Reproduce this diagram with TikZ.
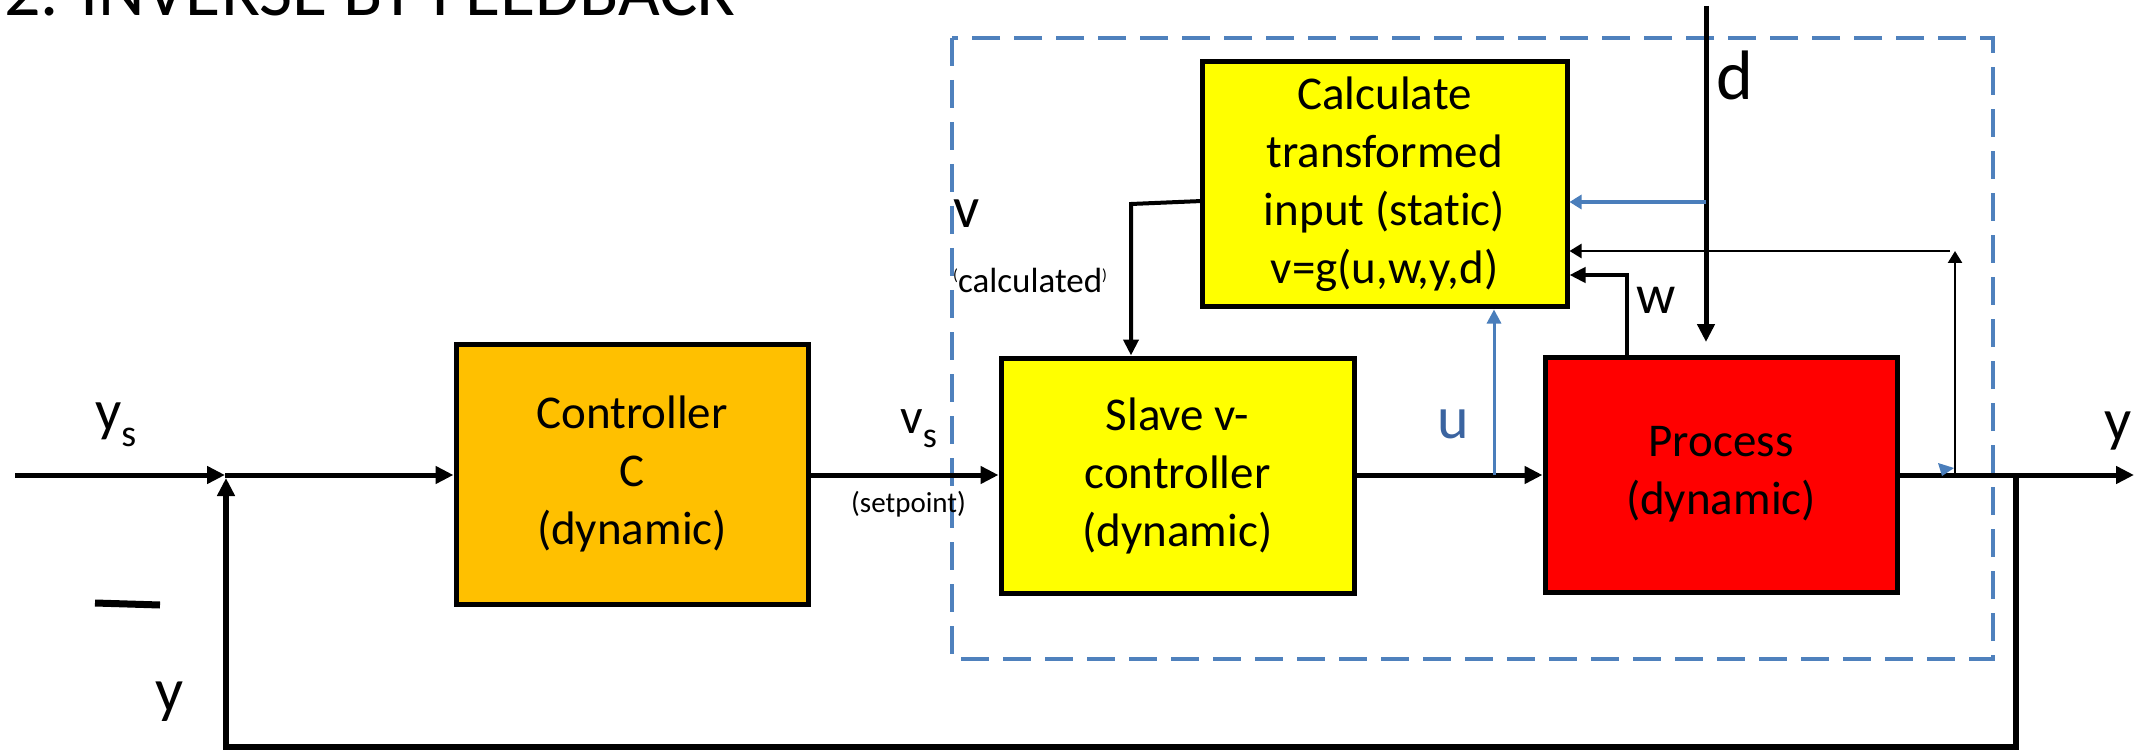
\documentclass[tikz,border=0pt]{standalone}
\usepackage{fontspec}
\setmainfont{Carlito}[Ligatures=NoCommon]
\usetikzlibrary{arrows.meta}
\definecolor{ctrlorange}{HTML}{FFC000}
\definecolor{slaveyellow}{HTML}{FFFF00}
\definecolor{procred}{HTML}{FF0000}
\definecolor{boxblue}{HTML}{4F81BD}
\definecolor{sigblue}{HTML}{4A7EBB}
\definecolor{ublue}{HTML}{3B64A0}
\begin{document}
\begin{tikzpicture}[x=1pt,y=-1pt,
  block/.style={draw=black, line width=5pt, align=center, inner sep=0pt,
    font=\fontsize{47}{58}\selectfont},
  heavy/.style={line width=5pt, -{Triangle[length=18pt,width=17pt]}},
  medium/.style={line width=4pt, -{Triangle[length=16pt,width=15pt]}},
  light/.style={line width=2.5pt, -{Triangle[length=12pt,width=14pt]}},
  sigline/.style={draw=sigblue, line width=4pt, -{Triangle[length=12pt,width=14pt]}},
  lbl/.style={inner sep=0pt, anchor=base west},
]
\useasboundingbox (0,0) rectangle (2136,751);

% boundary of the inverse-by-feedback loop
\draw[boxblue, line width=4pt, dash pattern=on 28pt off 14pt] (952,38) rectangle (1993,659);

% blocks
\node[block, fill=ctrlorange, minimum width=352pt, minimum height=260pt] (ctrl) at (632,474) {Controller\\C\\(dynamic)};
\node[block, fill=slaveyellow, minimum width=353pt, minimum height=235pt] (slave) at (1177.5,475.5) {Slave v-\\controller\\(dynamic)};
\node[block, fill=slaveyellow, minimum width=365pt, minimum height=245pt] (calc) at (1384.5,184.5) {Calculate\\transformed\\input (static)\\v=g(u,w,y,d)};
\node[block, fill=procred, minimum width=352pt, minimum height=235pt] (proc) at (1721,474.5) {Process\\(dynamic)};

% signal points
\coordinate (ysin) at (15,475);
\coordinate (sum) at (225,475);
\coordinate (sumup) at (226,478);
\coordinate (out) at (2134,475);
\coordinate (fbtap) at (2016,475);
\coordinate (fbcorner) at (2016,747);
\coordinate (dtop) at (1706,6);
\coordinate (dend) at (1706,342);
\coordinate (dtap) at (1706,202);
\coordinate (ytap) at (1955,475);
\coordinate (ytop) at (1955,251);
\coordinate (ystart) at (1950,251);
\coordinate (wbend) at (1627,275);
\coordinate (utap) at (1494,475);
\coordinate (vout) at (1202,201);
\coordinate (vbend) at (1131,204);

% main forward path
\draw[heavy] (ysin) -- (sum);
\draw[heavy] (sum) -- (sum -| ctrl.west);
\draw[heavy] (ctrl.east |- sum) -- (slave.west |- sum);
\draw[heavy] (slave.east |- sum) -- (proc.west |- sum);
\draw[heavy] (proc.east |- sum) -- (out);

% outer feedback of y
\draw[line width=5.5pt, -{Triangle[length=18pt,width=17pt]}] (fbtap) -- (fbcorner) -| (sumup);

% disturbance and measured signals into the static calculation
\draw[heavy] (dtop) -- (dend);
\draw[sigline] (dtap) -- (dtap -| calc.east);
\draw[light] (ytap) -- (ytop);
\draw[light] (ystart) -- (ytop -| calc.east);
\draw[medium] (wbend |- proc.north) -- (wbend) -- (wbend -| calc.east);
\draw[draw=sigblue, line width=3pt, -{Triangle[length=14pt,width=14pt]}] (utap) -- (utap |- calc.south);
\draw[medium] (vout) -- (vbend) -- (vbend |- slave.north);
\fill[sigblue] (1938,463) -- (1954,468) -- (1942,476) -- cycle;

% minus sign at the summation point
\draw[line width=7pt] (95,603) -- (160,605);

% labels
\node[lbl, font=\fontsize{72}{72}\selectfont] (title) at (4,16) {2. INVERSE BY FEEDBACK};
\node[lbl, font=\fontsize{58}{58}\selectfont] (ys) at (95,430) {y\raisebox{-16pt}{\fontsize{38}{38}\selectfont s}};
\node[lbl, font=\fontsize{50}{50}\selectfont] (vs) at (900,433) {v\raisebox{-14pt}{\fontsize{36}{36}\selectfont s}};
\node[lbl, font=\fontsize{29}{29}\selectfont] (setp) at (851,512) {(setpoint)};
\node[lbl, font=\fontsize{58}{58}\selectfont] (vlab) at (953,228) {v};
\node[lbl, font=\fontsize{35}{35}\selectfont] (calcd) at (953,293) {\raisebox{12pt}{\fontsize{16}{16}\selectfont(}calculated\raisebox{12pt}{\fontsize{16}{16}\selectfont)}};
\node[lbl, font=\fontsize{70}{70}\selectfont] (dlab) at (1716,100) {d};
\node[lbl, font=\fontsize{55}{55}\selectfont] (wlab) at (1636,313) {w};
\node[lbl, font=\fontsize{60}{60}\selectfont, text=ublue] (ulab) at (1437,438) {u};
\node[lbl, font=\fontsize{60}{60}\selectfont] (ylab) at (2104,440) {y};
\node[lbl, font=\fontsize{62}{62}\selectfont] (yfb) at (155,711) {y};
\end{tikzpicture}
\end{document}
